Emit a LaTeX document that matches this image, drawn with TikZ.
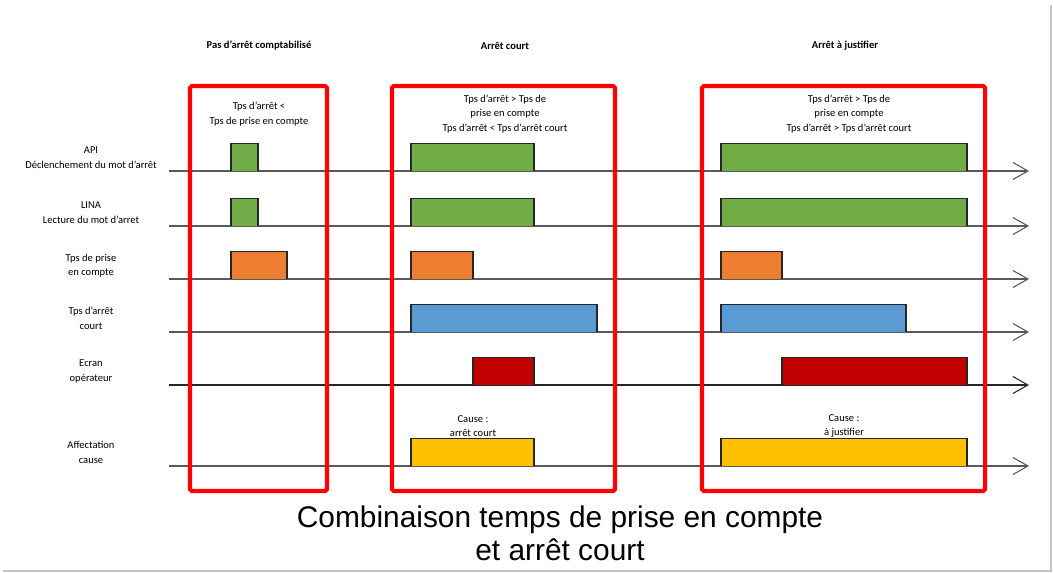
\documentclass[tikz,border=0pt]{standalone}
\usepackage{fontspec}
\setmainfont{Carlito}
\newfontfamily\titlefont{Liberation Sans}
\usetikzlibrary{arrows.meta}
\definecolor{pgreen}{HTML}{70AD47}
\definecolor{porange}{HTML}{ED7D31}
\definecolor{pblue}{HTML}{5B9BD5}
\definecolor{pred}{HTML}{C00000}
\definecolor{pyellow}{HTML}{FFC000}
\tikzset{
  axis/.style={line width=0.6pt, -{Straight Barb[length=0.3cm, width=0.34cm, line width=0.6pt]}},
  pulse/.style={draw=black!85, line width=0.6pt},
  redbox/.style={draw=red, line width=2.3pt, rounded corners=1pt},
  lbl/.style={align=center, inner sep=0pt, font=\fontsize{6}{8.2}\selectfont},
  head/.style={inner sep=0pt, font=\fontsize{6}{8}\selectfont\bfseries}
}
\begin{document}
\begin{tikzpicture}[x=0.02cm, y=-0.02cm]
\useasboundingbox (0,0) rectangle (1053,573);
% page shadow
\draw[gray!45, line width=1.2pt] (3,571) -- (1051,571) -- (1051,5);

% Column headers
\node[head] (h1) at (259,46) {Pas d'arrêt comptabilisé};
\node[head] (h2) at (505,46) {Arrêt court};
\node[head] (h3) at (845,46) {Arrêt à justifier};

% Signal rows: axis + label
\foreach \n/\y/\col/\txt in {
    api/171/black!65/{API\\Déclenchement du mot d'arrêt},
    lina/226/black!65/{LINA\\Lecture du mot d'arret},
    prise/279/black!65/{Tps de prise\\en compte},
    court/332/black!65/{Tps d'arrêt\\court},
    ecran/385/black!85/{Ecran\\opérateur},
    cause/466/black!65/{Affectation\\cause}} {
  \coordinate (\n-s) at (169,\y);
  \coordinate (\n-e) at (1029,\y);
  \draw[axis, draw=\col] (\n-s) -- (\n-e);
  \node[lbl] (\n-lbl) at (91,\y-13.5) {\txt};
}

% Pulses: start/end/baseline/colour
\foreach \xa/\xb/\y/\c in {
    231/258/171/pgreen, 411/534/171/pgreen, 721/967/171/pgreen,
    231/258/226/pgreen, 411/534/226/pgreen, 721/967/226/pgreen,
    231/287/279/porange, 411/473/279/porange, 721/782/279/porange,
    411/597/332/pblue, 721/906/332/pblue,
    473/534/385/pred, 782/967/385/pred,
    411/534/466/pyellow, 721/967/466/pyellow} {
  \filldraw[pulse, fill=\c] (\xa,\y) -- (\xa,\y-27.5) -- (\xb,\y-27.5) -- (\xb,\y);
}

% Conditions
\node[lbl] (c1) at (259,114) {Tps d'arrêt <\\Tps de prise en compte};
\node[lbl] (c2) at (505,114) {Tps d'arrêt > Tps de\\prise en compte\\Tps d'arrêt < Tps d'arrêt court};
\node[lbl] (c3) at (849,114) {Tps d'arrêt > Tps de\\prise en compte\\Tps d'arrêt > Tps d'arrêt court};

% Causes
\node[lbl] (k2) at (473,426) {Cause :\\arrêt court};
\node[lbl] (k3) at (844,426) {Cause :\\à justifier};

% Red frames
\draw[redbox] (190,86) rectangle (327,491);
\draw[redbox] (392,86) rectangle (615,491);
\draw[redbox] (702,86) rectangle (985,491);

% Title
\node[align=center, inner sep=0pt, font=\titlefont\fontsize{17}{18.7}\selectfont] (title) at (560,533) {Combinaison temps de prise en compte\\et arrêt court};
\end{tikzpicture}
\end{document}
